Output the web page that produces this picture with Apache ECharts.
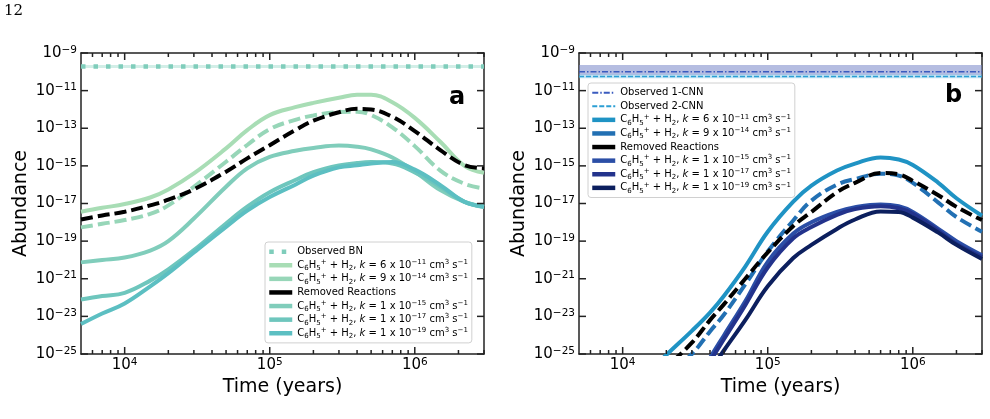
<!DOCTYPE html>
<html>
<head>
<meta charset="utf-8">
<script src="https://cdn.jsdelivr.net/npm/echarts@6/dist/echarts.min.js"></script>
<style>
html, body { margin: 0; padding: 0; background: #fff; }
#main { width: 990px; height: 419px; }
</style>
</head>
<body>
<div id="main"></div>
<script>
// axis limits (years / abundance)
var xMin = 5000, xMax = 3e6;
var yMin = 1e-25, yMax = 1e-9;
var xMajor = [1e4, 1e5, 1e6];
var xMinor = [6000, 7000, 8000, 9000, 2e4, 3e4, 4e4, 5e4, 6e4, 7e4, 8e4, 9e4,
              2e5, 3e5, 4e5, 5e5, 6e5, 7e5, 8e5, 9e5, 2e6, 3e6];
var yMajor = [1e-25, 1e-23, 1e-21, 1e-19, 1e-17, 1e-15, 1e-13, 1e-11, 1e-9];

// panel a : BN  (log10 of abundance)
var timesA = [5000, 7000, 1e4, 1.5e4, 2e4, 3e4, 5e4, 7e4, 1e5, 1.5e5, 2e5, 3e5, 4e5, 5e5, 7e5, 1e6, 1.5e6, 2.2e6, 3e6];
var a_k6e11  = [-17.44, -17.23, -17.03, -16.68, -16.25, -15.4, -14.07, -13.1, -12.3, -11.88, -11.65, -11.38, -11.22, -11.22, -11.62, -12.45, -13.72, -15.0, -15.37];
var a_k9e14  = [-18.27, -18.08, -17.88, -17.55, -17.1, -16.11, -14.78, -13.89, -13.05, -12.55, -12.32, -12.14, -12.12, -12.3, -12.95, -13.95, -15.25, -15.95, -16.2];
var a_removed = [-17.85, -17.64, -17.44, -17.1, -16.8, -16.25, -15.31, -14.6, -13.9, -13.1, -12.6, -12.15, -11.97, -12.0, -12.39, -13.15, -14.16, -14.96, -15.13];
var a_k1e15  = [-20.13, -20.0, -19.87, -19.5, -19.0, -17.8, -16.11, -15.13, -14.52, -14.2, -14.05, -13.92, -13.98, -14.12, -14.55, -15.3, -16.29, -16.91, -17.17];
var a_k1e17  = [-22.1, -21.92, -21.75, -21.1, -20.5, -19.48, -18.06, -17.17, -16.4, -15.75, -15.33, -14.98, -14.85, -14.8, -14.87, -15.35, -16.11, -16.91, -17.17];
var a_k1e19  = [-23.41, -22.85, -22.31, -21.4, -20.7, -19.6, -18.24, -17.38, -16.66, -16.0, -15.52, -15.08, -14.97, -14.88, -14.8, -15.2, -16.02, -16.91, -17.17];
var obsBN = 1.9e-10, obsBNband = [1.6e-10, 2.3e-10];

// panel b : CNN
var timesB = [1.5e4, 2e4, 3e4, 4e4, 5e4, 7e4, 1e5, 1.5e5, 2e5, 3e5, 4e5, 6e5, 8e5, 1e6, 1.5e6, 2e6, 3e6];
var b_k6e11  = [-26.0, -25.05, -23.77, -22.8, -21.9, -20.35, -18.5, -16.9, -16.05, -15.25, -14.88, -14.55, -14.66, -14.95, -15.9, -16.72, -17.65];
var b_k9e14  = [-27.2, -26.2, -25.0, -23.8, -22.9, -21.3, -19.55, -17.9, -16.85, -16.0, -15.7, -15.42, -15.52, -15.9, -16.95, -17.72, -18.5];
var b_removed = [-26.6, -25.7, -24.4, -23.2, -22.35, -21.0, -19.6, -18.2, -17.45, -16.4, -15.9, -15.38, -15.45, -15.8, -16.56, -17.18, -17.88];
var b_k1e15  = [-29.0, -28.0, -26.8, -25.2, -24.0, -22.2, -20.1, -18.6, -18.0, -17.45, -17.2, -17.05, -17.15, -17.45, -18.35, -19.0, -19.75];
var b_k1e17  = [-29.2, -28.2, -27.0, -25.4, -24.2, -22.4, -20.4, -18.85, -18.25, -17.6, -17.3, -17.15, -17.25, -17.55, -18.45, -19.15, -19.85];
var b_k1e19  = [-29.8, -28.8, -27.5, -25.9, -24.8, -23.2, -21.4, -19.9, -19.2, -18.35, -17.85, -17.42, -17.45, -17.75, -18.55, -19.2, -19.95];
var obs1CNN = 1.0e-10, obs1CNNband = [6.8e-11, 2.3e-10];
var obs2CNN = 5.6e-11, obs2CNNband = [4.6e-11, 7.2e-11];

var FONT = 'DejaVu Sans';
var INK = '#222';

function pts(times, logs) {
  return times.map(function (t, i) { return [t, Math.pow(10, logs[i])]; });
}

function pow10(v) {
  var e = Math.round(Math.log10(v));
  return '{b|10}{s|' + (e < 0 ? '\u2212' : '') + Math.abs(e) + '}';
}
var powRich = {
  b: { fontSize: 15, lineHeight: 17, fontFamily: FONT, color: '#000' },
  s: { fontSize: 10.5, lineHeight: 10, fontFamily: FONT, color: '#000', verticalAlign: 'top' }
};

function chem(k) {
  return 'C{sub|6}H{sub|5}{sup|+} + H{sub|2}, {it|k} = ' + k + ' cm{sup|3} s{sup|\u22121}';
}
var names = {
  aBN: 'Observed BN',
  a1: chem('6 x 10{sup|\u221211}'), a2: chem('9 x 10{sup|\u221214}'), a3: 'Removed Reactions',
  a4: chem('1 x 10{sup|\u221215}'), a5: chem('1 x 10{sup|\u221217}'), a6: chem('1 x 10{sup|\u221219}'),
  b1CNN: 'Observed 1-CNN', b2CNN: 'Observed 2-CNN',
  b1: chem('6 x 10{sup|\u221211}'), b2: chem('9 x 10{sup|\u221214}'), b3: 'Removed Reactions',
  b4: chem('1 x 10{sup|\u221215}'), b5: chem('1 x 10{sup|\u221217}'), b6: chem('1 x 10{sup|\u221219}')
};
var legRich = {
  sub: { fontSize: 7, lineHeight: 8, fontFamily: FONT, color: '#000', verticalAlign: 'bottom' },
  sup: { fontSize: 7, lineHeight: 8, fontFamily: FONT, color: '#000', verticalAlign: 'top' },
  it: { fontSize: 10, fontStyle: 'italic', fontFamily: FONT, color: '#000' }
};

// frame axis: line + labels (ticks added afterwards as graphic lines)
function frameX(grid, pos, label) {
  return {
    type: 'log', gridIndex: grid, position: pos, min: xMin, max: xMax,
    name: label ? 'Time (years)' : '', nameLocation: 'middle', nameGap: 21,
    nameTextStyle: { fontFamily: FONT, fontSize: 19, color: '#000' },
    axisLine: { show: true, onZero: false, lineStyle: { color: INK, width: 1.5 } },
    axisTick: { show: false },
    axisLabel: { show: label, customValues: xMajor, formatter: pow10, rich: powRich, margin: 3 },
    splitLine: { show: false }
  };
}
function frameY(grid, pos, label) {
  return {
    type: 'log', gridIndex: grid, position: pos, min: yMin, max: yMax,
    name: label ? 'Abundance' : '', nameLocation: 'middle', nameGap: 50,
    nameTextStyle: { fontFamily: FONT, fontSize: 19, color: '#000' },
    axisLine: { show: true, onZero: false, lineStyle: { color: INK, width: 1.5 } },
    axisTick: { show: false },
    axisLabel: { show: label, customValues: yMajor, formatter: pow10, rich: powRich, margin: 4 },
    splitLine: { show: false }
  };
}

function curve(name, xi, data, color, dashed) {
  return {
    name: name, type: 'line', xAxisIndex: xi, yAxisIndex: xi, data: data,
    symbol: 'none', smooth: 0.4, clip: true,
    lineStyle: { color: color, width: 4, type: dashed ? [12, 5] : 'solid' },
    itemStyle: { color: color }
  };
}
function flat(name, xi, val, color, width, type, band, bandColor) {
  return {
    name: name, type: 'line', xAxisIndex: xi, yAxisIndex: xi,
    data: [[xMin, val], [xMax, val]], symbol: 'none', z: 1,
    lineStyle: { color: color, width: width, type: type, cap: 'butt' },
    itemStyle: { color: color },
    markArea: { silent: true, itemStyle: { color: bandColor }, data: [[{ yAxis: band[0] }, { yAxis: band[1] }]] }
  };
}

function thick(name, solid) {
  var ls = { width: 4.5 };
  if (solid) ls.type = 'solid';
  return { name: name, lineStyle: ls };
}
function legend(left, top, keys) {
  return {
    orient: 'vertical', left: left, top: top, itemWidth: 23, itemHeight: 8, itemGap: 0.3,
    padding: [3, 4, 3, 2], backgroundColor: 'rgba(255,255,255,0.85)',
    borderColor: '#d0d0d0', borderWidth: 1, borderRadius: 3, selectedMode: false,
    itemStyle: { opacity: 0 },
    textStyle: { fontFamily: FONT, fontSize: 10, lineHeight: 13.3, color: '#000', rich: legRich },
    formatter: function (n) { return names[n]; },
    data: keys
  };
}

var texts = [
  { type: 'text', left: 4, top: 4, style: { text: '12', font: '15px "DejaVu Serif"', fill: '#000' } },
  { type: 'text', left: 449, top: 86, style: { text: 'a', font: 'bold 24px "DejaVu Sans"', fill: '#000' } },
  { type: 'text', left: 945, top: 84, style: { text: 'b', font: 'bold 24px "DejaVu Sans"', fill: '#000' } }
];

var chart = echarts.init(document.getElementById('main'));
var option = {
  animation: false,
  grid: [
    { left: 81, top: 53, width: 403, height: 301 },
    { left: 579, top: 53, width: 403, height: 301 }
  ],
  xAxis: [
    frameX(0, 'bottom', true), frameX(0, 'top', false),
    frameX(1, 'bottom', true), frameX(1, 'top', false)
  ],
  yAxis: [
    frameY(0, 'left', true), frameY(0, 'right', false),
    frameY(1, 'left', true), frameY(1, 'right', false)
  ],
  legend: [
    legend(265, 242, [
      { name: 'aBN', lineStyle: { width: 4.5 } },
      thick('a1'), thick('a2', true), thick('a3', true), thick('a4'), thick('a5'), thick('a6')
    ]),
    legend(588, 83, [
      'b1CNN', 'b2CNN',
      thick('b1'), thick('b2', true), thick('b3', true), thick('b4'), thick('b5'), thick('b6')
    ])
  ],
  graphic: texts,
  series: [
    flat('aBN', 0, obsBN, '#7fcdbb', 4.5, [4.5, 8], obsBNband, 'rgba(127,205,187,0.35)'),
    curve('a1', 0, pts(timesA, a_k6e11), '#a8ddb5', false),
    curve('a2', 0, pts(timesA, a_k9e14), '#97d6b8', true),
    curve('a3', 0, pts(timesA, a_removed), '#000000', true),
    curve('a4', 0, pts(timesA, a_k1e15), '#80cdbb', false),
    curve('a5', 0, pts(timesA, a_k1e17), '#6ec6bd', false),
    curve('a6', 0, pts(timesA, a_k1e19), '#5cbfc2', false),

    flat('b1CNN', 2, obs1CNN, '#3a5bbf', 1.5, [6, 2, 1.5, 2], obs1CNNband, 'rgba(120,135,200,0.55)'),
    flat('b2CNN', 2, obs2CNN, '#2c9fd4', 1.5, [5, 2], obs2CNNband, 'rgba(120,195,230,0.45)'),
    curve('b1', 2, pts(timesB, b_k6e11), '#1f93c4', false),
    curve('b2', 2, pts(timesB, b_k9e14), '#2270b3', true),
    curve('b3', 2, pts(timesB, b_removed), '#000000', true),
    curve('b4', 2, pts(timesB, b_k1e15), '#2b4ea6', false),
    curve('b5', 2, pts(timesB, b_k1e17), '#23338c', false),
    curve('b6', 2, pts(timesB, b_k1e19), '#0c1f5e', false)
  ]
};
chart.setOption(option);

// inward ticks on all four sides, positioned through the axes' scales
function seg(x1, y1, x2, y2) {
  return { type: 'line', silent: true, z: 100,
           shape: { x1: x1, y1: y1, x2: x2, y2: y2 },
           style: { stroke: INK, lineWidth: 1.5 } };
}
var ticks = [];
[0, 2].forEach(function (ax) {
  var L = chart.convertToPixel({ xAxisIndex: ax }, xMin);
  var R = chart.convertToPixel({ xAxisIndex: ax }, xMax);
  var T = chart.convertToPixel({ yAxisIndex: ax }, yMax);
  var B = chart.convertToPixel({ yAxisIndex: ax }, yMin);
  function xTicks(vals, len) {
    vals.forEach(function (v) {
      var px = chart.convertToPixel({ xAxisIndex: ax }, v);
      ticks.push(seg(px, B, px, B - len), seg(px, T, px, T + len));
    });
  }
  xTicks(xMajor, 7);
  xTicks(xMinor, 4);
  yMajor.forEach(function (v) {
    var py = chart.convertToPixel({ yAxisIndex: ax }, v);
    ticks.push(seg(L, py, L + 7, py), seg(R, py, R - 7, py));
  });
});
chart.setOption({ graphic: texts.concat(ticks) });
</script>
</body>
</html>
